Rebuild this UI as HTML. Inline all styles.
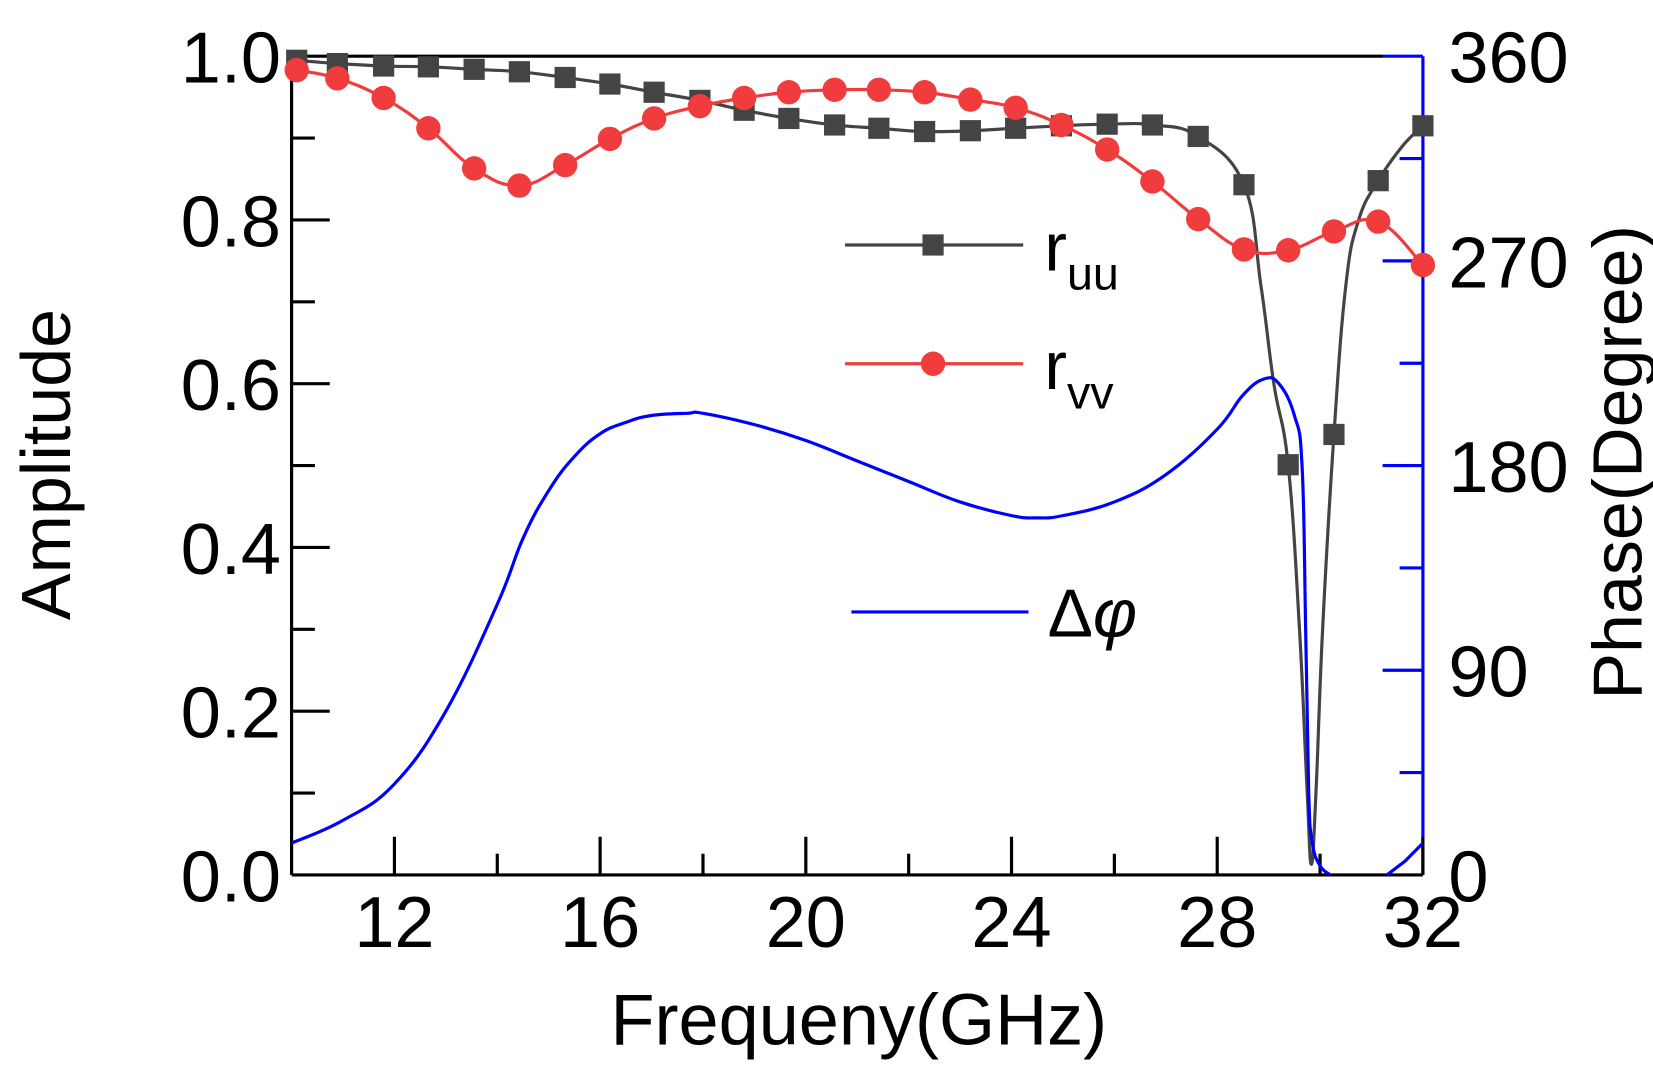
<!DOCTYPE html>
<html><head><meta charset="utf-8"><style>
html,body{margin:0;padding:0;background:#fff;}
svg{display:block;}
text{font-family:"Liberation Sans",Arial,sans-serif;}
</style></head><body>
<svg id="chart" width="1653" height="1069" viewBox="0 0 1559 1008" preserveAspectRatio="none" xmlns="http://www.w3.org/2000/svg">
<g id="plot"></g>
</svg>
<script>
// ---- data ----
const markerFreqs = [10.1,10.89,11.79,12.66,13.55,14.43,15.32,16.19,17.05,17.94,18.80,19.67,20.56,21.42,22.31,23.20,24.08,24.97,25.86,26.74,27.63,28.52,29.38,30.27,31.13,32.0];
const ruuValues = [0.995,0.991,0.988,0.987,0.984,0.981,0.974,0.966,0.956,0.946,0.934,0.924,0.916,0.912,0.908,0.909,0.912,0.915,0.917,0.916,0.902,0.843,0.501,0.538,0.848,0.915];
const rvvValues = [0.983,0.973,0.949,0.912,0.863,0.842,0.867,0.899,0.924,0.939,0.949,0.956,0.959,0.959,0.956,0.947,0.937,0.916,0.886,0.847,0.801,0.764,0.763,0.786,0.798,0.745];
const ruuDipFreqs = [28.85,29.1,29.6,29.75,29.83,29.92,30.05,30.5,30.75,31.6];
const ruuDipValues = [0.72,0.60,0.30,0.10,0.013,0.10,0.30,0.72,0.80,0.89];
const phaseFreqs = [10,11,12,13,14,14.5,15,15.5,16,16.5,17,17.7,18,19,20,21,22,23,24,24.5,25,26,27,28,28.5,28.9,29.2,29.5,29.65,29.72,29.78,29.85,30.0,30.2];
const phaseValues = [14,24,40,72,119,148,169,184,194,199,202,203,203,198,191,182,173,164,158,157,158,164,176,196,211,218,216,202,180,108,36,14,4,0];
const phaseWrapFreqs = [31.3,31.65,32];
const phaseWrapValues = [0,6,14];
const xTicks = [12,16,20,24,28,32];
const yTicks = [0.0,0.2,0.4,0.6,0.8,1.0];
const phaseTicks = [0,90,180,270,360];

// ---- axes ----
const L=275,R=1342,T=53,B=825;
const X=f=>L+(f-10)/22*(R-L);
const Y=a=>B-a*(B-T);
const YP=p=>B-p/360*(B-T);
const NS="http://www.w3.org/2000/svg";
const g=document.getElementById('plot');
function mk(tag,attrs,parent){const e=document.createElementNS(NS,tag);for(const k in attrs)e.setAttribute(k,attrs[k]);(parent||g).appendChild(e);return e;}
function smooth(fs,vs,fy){
 const p=fs.map((f,i)=>[X(f),fy(vs[i])]);
 let d='M'+p[0][0].toFixed(1)+','+p[0][1].toFixed(1);
 for(let i=0;i<p.length-1;i++){
  const p0=p[i-1]||p[i],p1=p[i],p2=p[i+1],p3=p[i+2]||p2;
  const t=0.2;
  const c1=[p1[0]+(p2[0]-p0[0])*t,p1[1]+(p2[1]-p0[1])*t];
  const c2=[p2[0]-(p3[0]-p1[0])*t,p2[1]-(p3[1]-p1[1])*t];
  d+=' C'+c1[0].toFixed(1)+','+c1[1].toFixed(1)+' '+c2[0].toFixed(1)+','+c2[1].toFixed(1)+' '+p2[0].toFixed(1)+','+p2[1].toFixed(1);
 }
 return d;
}
function pts(fs,vs,fy){return fs.map((f,i)=>X(f).toFixed(1)+','+fy(vs[i]).toFixed(1)).join(' ');}

let e;
e=mk('line',{x1:L,y1:T,x2:1305,y2:T,stroke:'#000','stroke-width':3});


e=mk('line',{x1:1305,y1:T,x2:R,y2:T,stroke:'#0000ff','stroke-width':3});


e=mk('line',{x1:L,y1:T,x2:L,y2:B,stroke:'#000','stroke-width':3});


e=mk('line',{x1:L,y1:B,x2:R,y2:B,stroke:'#000','stroke-width':3});


e=mk('line',{x1:R,y1:T,x2:R,y2:B,stroke:'#0000ff','stroke-width':3});



for(let f=12;f<=32;f+=2){const maj=(f%4===0);
 e=mk('line',{x1:X(f),y1:B,x2:X(f),y2:B-(maj?36:20),stroke:'#000','stroke-width':3});
 
 }
xTicks.forEach(f=>{e=mk('text',{x:X(f),y:893,'font-size':68,'text-anchor':'middle',fill:'#000'});e.textContent=f;
 
 });
for(let i=1;i<10;i++){const a=i/10;const maj=(i%2===0);
 e=mk('line',{x1:L,y1:Y(a),x2:L+(maj?36:22),y2:Y(a),stroke:'#000','stroke-width':3});
 
 }
yTicks.forEach(a=>{e=mk('text',{x:265,y:Y(a)+25,'font-size':68,'text-anchor':'end',fill:'#000'});e.textContent=a.toFixed(1);
 
 });
for(let p=45;p<360;p+=45){const maj=(p%90===0);
 e=mk('line',{x1:R,y1:YP(p),x2:R-(maj?38:22),y2:YP(p),stroke:'#0000ff','stroke-width':3});
 
 }
phaseTicks.forEach(p=>{e=mk('text',{x:1366,y:YP(p)+25,'font-size':68,fill:'#000'});e.textContent=p;
 
 });

e=mk('text',{x:810,y:985,'font-size':68,'text-anchor':'middle',fill:'#000'});e.textContent='Frequeny(GHz)';


e=mk('text',{x:0,y:0,'font-size':66,'text-anchor':'middle',fill:'#000',transform:'translate(66,438) rotate(-90)'});e.textContent='Amplitude';


e=mk('text',{x:0,y:0,'font-size':66,'text-anchor':'middle',fill:'#000',transform:'translate(1548,436) rotate(-90)'});e.textContent='Phase(Degree)';



const defs=mk('defs',{});
const cp=mk('clipPath',{id:'clip'},defs);mk('rect',{x:L,y:T,width:R-L,height:B-T},cp);

const rf=[],rv=[];
markerFreqs.forEach((f,i)=>{rf.push(f);rv.push(ruuValues[i]);});
ruuDipFreqs.forEach((f,i)=>{rf.push(f);rv.push(ruuDipValues[i]);});
const idx=rf.map((f,i)=>i).sort((a,b)=>rf[a]-rf[b]);
e=mk('path',{d:smooth(idx.map(i=>rf[i]),idx.map(i=>rv[i]),Y),fill:'none',stroke:'#444','stroke-width':3,'clip-path':'url(#clip)'});


e=mk('path',{d:smooth(markerFreqs,rvvValues,Y),fill:'none',stroke:'#f03c3c','stroke-width':3});


e=mk('path',{d:smooth(phaseFreqs,phaseValues,YP),fill:'none',stroke:'#0000ff','stroke-width':3,'clip-path':'url(#clip)'});


e=mk('polyline',{points:pts(phaseWrapFreqs,phaseWrapValues,YP),fill:'none',stroke:'#0000ff','stroke-width':3});


markerFreqs.forEach((f,i)=>{
 e=mk('rect',{x:X(f)-10,y:Y(ruuValues[i])-10,width:20,height:20,fill:'#444'});
 
 
});
markerFreqs.forEach((f,i)=>{
 e=mk('circle',{cx:X(f),cy:Y(rvvValues[i]),r:11.5,fill:'#f03c3c'});
 
 
});

e=mk('line',{x1:797,y1:231,x2:965,y2:231,stroke:'#444','stroke-width':3});


e=mk('rect',{x:870,y:221,width:20,height:20,fill:'#444'});


e=mk('text',{x:985,y:255,'font-size':64,fill:'#000'});
e.innerHTML='r<tspan font-size="44" dy="18">uu</tspan>';


e=mk('line',{x1:797,y1:343,x2:965,y2:343,stroke:'#f03c3c','stroke-width':3});


e=mk('circle',{cx:880,cy:343,r:11.5,fill:'#f03c3c'});


e=mk('text',{x:985,y:367,'font-size':64,fill:'#000'});
e.innerHTML='r<tspan font-size="44" dy="18">vv</tspan>';


e=mk('line',{x1:803,y1:577,x2:970,y2:577,stroke:'#0000ff','stroke-width':3});


e=mk('text',{x:988,y:600,'font-size':64,fill:'#000','font-family':'"Liberation Serif",serif'});
e.innerHTML='Δ<tspan font-style="italic">φ</tspan>';


</script>
</body></html>
